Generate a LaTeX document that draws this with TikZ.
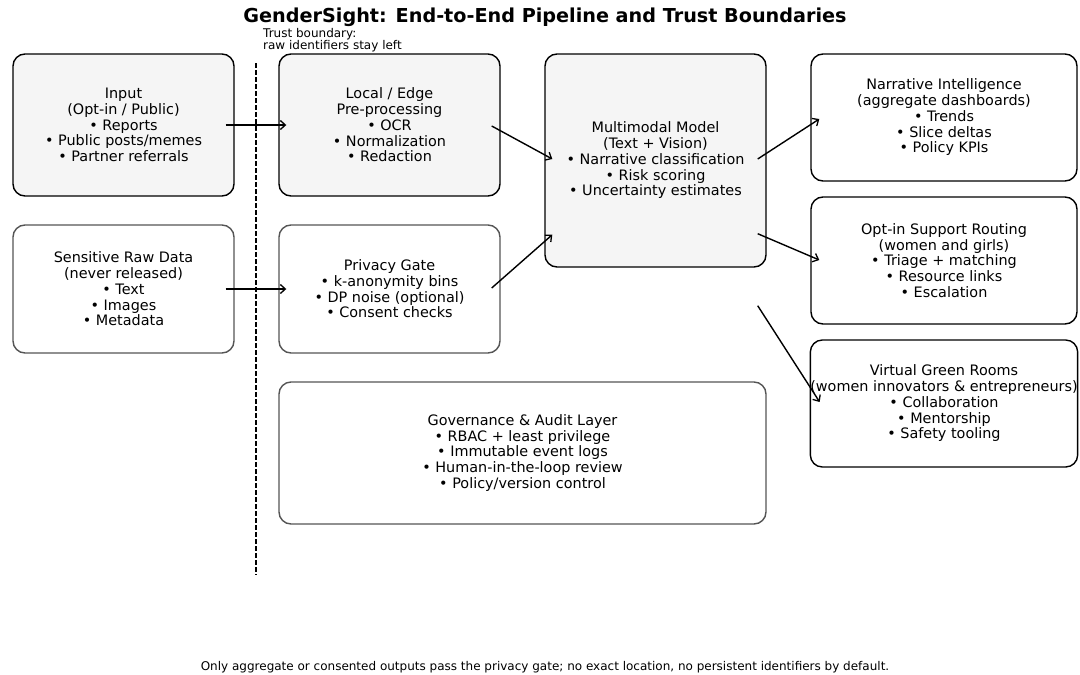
\documentclass[tikz,border=0pt]{standalone}
\usepackage{fontspec}
\setmainfont{DejaVu Sans}
\usetikzlibrary{arrows.meta,calc}

\definecolor{boxfill}{HTML}{F5F5F5}
\definecolor{softline}{HTML}{555555}

\begin{document}
\begin{tikzpicture}[x=1pt,y=-1pt,
    box/.style={draw=black,line width=1.4pt,rounded corners=12pt,align=center,
                inner sep=0pt,font=\fontsize{14.4}{15.75}\selectfont},
    shaded/.style={box,fill=boxfill},
    plain/.style={box,fill=white},
    soft/.style={box,draw=softline,fill=white},
    arr/.style={-{Straight Barb[length=5pt,width=9pt,line width=1.3pt]},line width=1.4pt},
    small/.style={font=\fontsize{12}{12.2}\selectfont}]

  \useasboundingbox (0,0) rectangle (1080,675);

  \node [font=\fontsize{19.2}{22}\selectfont\bfseries] (title) at (545,17)
    {GenderSight: End-to-End Pipeline and Trust Boundaries};
%
  \node [shaded,minimum width=221pt,minimum height=142pt] (input) at (123.5,125)
    {Input\\(Opt-in / Public)\\• Reports\\• Public posts/memes\\• Partner referrals};
  \node [shaded,minimum width=221pt,minimum height=142pt] (local) at (389.5,125)
    {Local / Edge\\Pre-processing\\• OCR\\• Normalization\\• Redaction};
  \node [shaded,minimum width=221pt,minimum height=213pt] (model) at (655.5,160.5)
    {Multimodal Model\\(Text + Vision)\\• Narrative classification\\• Risk scoring\\• Uncertainty estimates};
%
  \node [soft,minimum width=221pt,minimum height=128pt] (raw) at (123.5,289)
    {Sensitive Raw Data\\(never released)\\• Text\\• Images\\• Metadata};
  \node [soft,minimum width=221pt,minimum height=128pt] (gate) at (389.5,289)
    {Privacy Gate\\• k-anonymity bins\\• DP noise (optional)\\• Consent checks};
  \node [soft,minimum width=487pt,minimum height=142pt] (audit) at (522.5,453)
    {Governance \& Audit Layer\\• RBAC + least privilege\\• Immutable event logs\\• Human-in-the-loop review\\• Policy/version control};
%
  \node [plain,minimum width=266pt,minimum height=127pt] (narr) at (944,117.5)
    {Narrative Intelligence\\(aggregate dashboards)\\• Trends\\• Slice deltas\\• Policy KPIs};
  \node [plain,minimum width=266pt,minimum height=127pt] (route) at (944,260.5)
    {Opt-in Support Routing\\(women and girls)\\• Triage + matching\\• Resource links\\• Escalation};
  \node [plain,minimum width=266pt,minimum height=127pt] (rooms) at (944,403.5)
    {Virtual Green Rooms\\(women innovators \& entrepreneurs)\\• Collaboration\\• Mentorship\\• Safety tooling};
%
  \coordinate (bndtop) at (256,63);
  \coordinate (bndbot) at (256,575);
  \draw [line width=1.4pt,dash pattern=on 4.5pt off 2.5pt] (bndtop) -- (bndbot);
  \node [small,align=left,anchor=south west,inner sep=0pt] (bndlabel) at (263,52)
    {Trust boundary:\\raw identifiers stay left};
%
  \draw [arr] ([xshift=-9pt]input.east) -- ([xshift=8pt]local.west);
  \draw [arr] ([xshift=-9pt]raw.east) -- ([xshift=8pt]gate.west);
%
  \draw [arr] ([xshift=-9pt,yshift=-1pt]local.east) -- ([xshift=8pt,yshift=1.5pt]model.west);
  \draw [arr] ([xshift=-9pt,yshift=1pt]gate.east) -- ([xshift=8pt,yshift=33pt]model.south west);
%
  \draw [arr] ([xshift=-9pt,yshift=1.5pt]model.east) -- ([xshift=9pt,yshift=-1.5pt]narr.west);
  \draw [arr] ([xshift=-9pt,yshift=34pt]model.south east) -- ([xshift=9pt,yshift=0.5pt]route.west);
  \coordinate (modelout) at ($(model.south east)+(-9,38)$);
  \draw [arr] (modelout) -- ([xshift=10pt,yshift=1.5pt]rooms.west);
%
  \node [small] (note) at (545,667)
    {Only aggregate or consented outputs pass the privacy gate; no exact location, no persistent identifiers by default.};

\end{tikzpicture}
\end{document}
